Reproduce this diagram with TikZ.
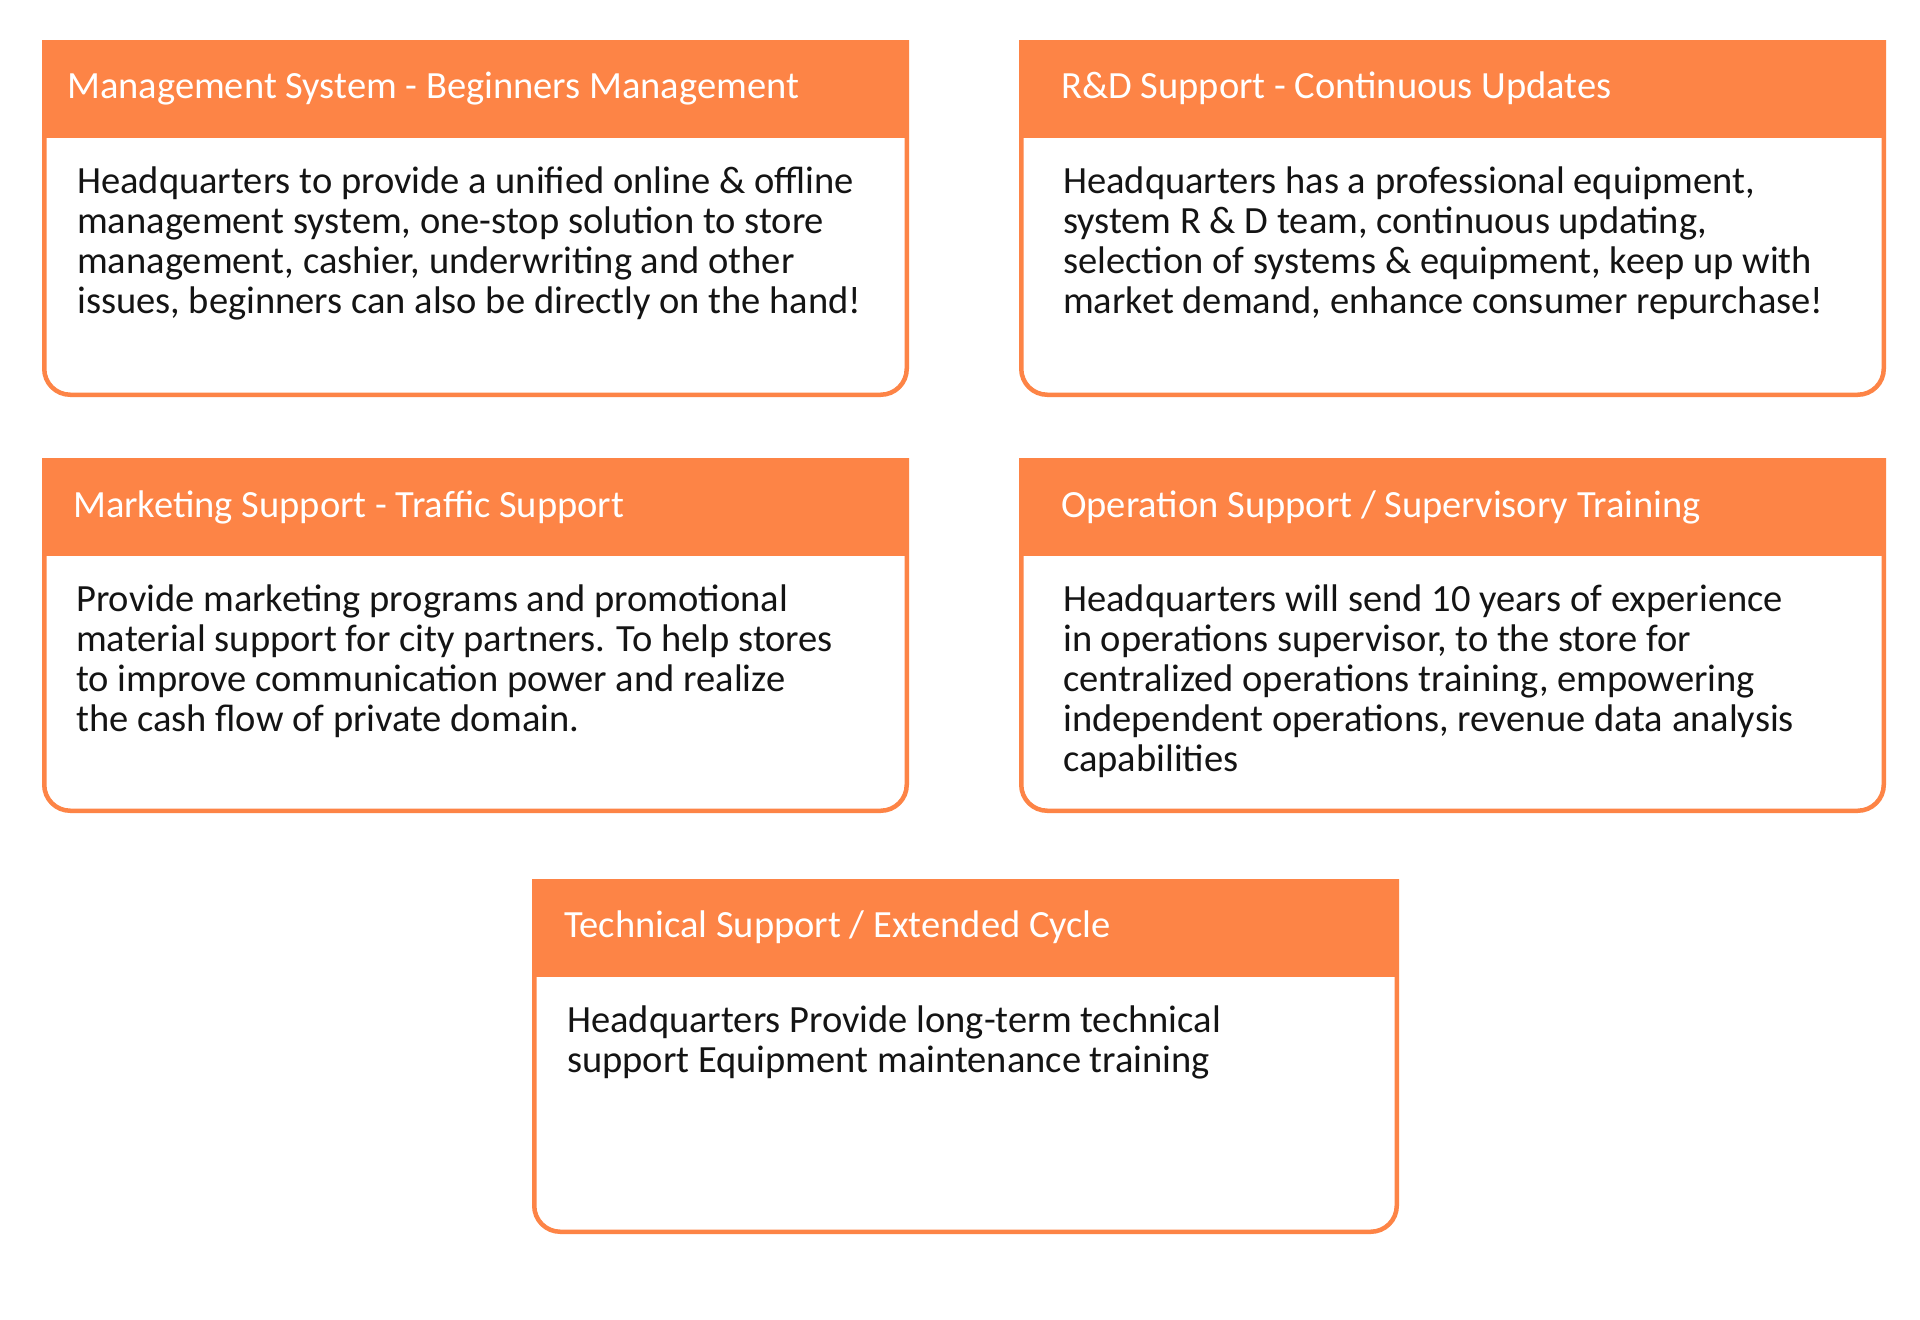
\documentclass[tikz,border=0pt]{standalone}
\usepackage{fontspec}
\setmainfont{Carlito}
\definecolor{orng}{HTML}{FD8446}
\definecolor{txt}{HTML}{141414}
\tikzset{
  cardline/.style={draw=orng, line width=4.5pt, rounded corners=26pt},
  titletext/.style={anchor=base west, inner sep=0pt, text=white, font=\fontsize{38.5}{40}\selectfont},
  bodytext/.style={anchor=base west, inner sep=0pt, text=txt, font=\fontsize{38.5}{40}\selectfont},
}
\newcommand\mycard[4]{%
  \draw[cardline] (#1+2.25,#2) -- (#1+2.25,#4-2.25) -- (#3-2.25,#4-2.25) -- (#3-2.25,#2);
  \fill[orng] (#1,#2) rectangle (#3,#2+98);
}
\newcommand\bodylines[1]{\begin{tabular}[t]{@{}l@{}}#1\end{tabular}}
\begin{document}
\begin{tikzpicture}[x=1pt,y=-1pt]
\useasboundingbox[fill=white] (0,0) rectangle (1920,1320);

% card 1
\mycard{42}{40}{909}{397}
\node[titletext] (t1) at (67,98) {Management System - Beginners Management};
\node[bodytext] (b1) at (77,193) {\bodylines{Headquarters to provide a unified online \& offline\\management system, one-stop solution to store\\management, cashier, underwriting and other\\issues, beginners can also be directly on the hand!}};

% card 2
\mycard{1019}{40}{1886}{397}
\node[titletext] (t2) at (1061,98) {R\&D Support - Continuous Updates};
\node[bodytext] (b2) at (1063,193) {\bodylines{Headquarters has a professional equipment,\\system R \& D team, continuous updating,\\selection of systems \& equipment, keep up with\\market demand, enhance consumer repurchase!}};

% card 3
\mycard{42}{458}{909}{813}
\node[titletext] (t3) at (73,517) {Marketing Support - Traffic Support};
\node[bodytext] (b3) at (76,611) {\bodylines{Provide marketing programs and promotional\\material support for city partners. To help stores\\to improve communication power and realize\\the cash flow of private domain.}};

% card 4
\mycard{1019}{458}{1886}{813}
\node[titletext] (t4) at (1061,517) {Operation Support / Supervisory Training};
\node[bodytext] (b4) at (1063,611) {\bodylines{Headquarters will send 10 years of experience\\in operations supervisor, to the store for\\centralized operations training, empowering\\independent operations, revenue data analysis\\capabilities}};

% card 5
\mycard{532}{879}{1399}{1234}
\node[titletext] (t5) at (564,937) {Technical Support / Extended Cycle};
\node[bodytext] (b5) at (567,1032) {\bodylines{Headquarters Provide long-term technical\\support Equipment maintenance training}};
\end{tikzpicture}
\end{document}
